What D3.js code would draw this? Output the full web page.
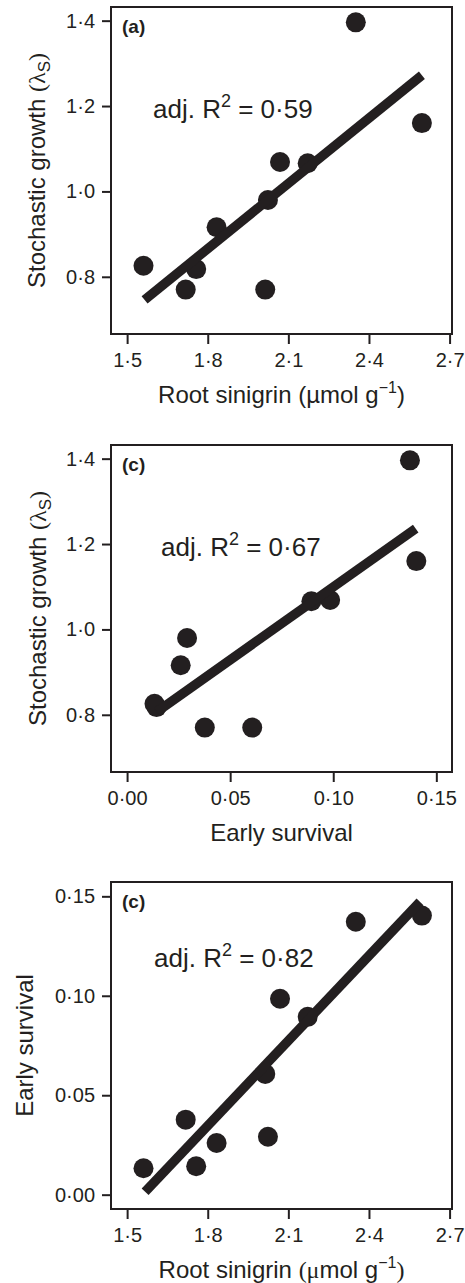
<!DOCTYPE html>
<html>
<head>
<meta charset="utf-8">
<script src="https://cdn.jsdelivr.net/npm/d3@7"></script>
<style>
  html, body { margin: 0; padding: 0; background: #fff; }
  svg { display: block; }
  text { font-family: "Liberation Sans", Arial, sans-serif; fill: #231f20; }
</style>
</head>
<body>
<svg id="chart" width="465" height="1283"></svg>
<script>
// ---- data ----
const sinigrin = [1.561, 1.718, 1.757, 1.833, 2.014, 2.024, 2.069, 2.172, 2.351, 2.597];
const lambdaS  = [0.826, 0.770, 0.818, 0.916, 0.770, 0.980, 1.069, 1.066, 1.396, 1.160];
const survival = [0.0133, 0.0377, 0.0143, 0.0260, 0.0607, 0.0291, 0.0985, 0.0894, 0.1372, 0.1403];

const sinigrinTicks = [1.5, 1.8, 2.1, 2.4, 2.7];
const lambdaTicks   = [0.8, 1.0, 1.2, 1.4];
const survivalTicks = [0.00, 0.05, 0.10, 0.15];

// fitted regression lines (endpoints)
const fitA_x = [1.565, 2.597],  fitA_y = [0.746, 1.272];
const fitB_x = [0.0144, 0.1400], fitB_y = [0.807, 1.236];
const fitC_x = [1.567, 2.590],  fitC_y = [0.0015, 0.1472];

const panelLetters = ["(a)", "(c)", "(c)"];
const r2Values = ["0·59", "0·67", "0·82"];

// ---- layout ----
const ink = "#231f20";
const boxLeft = 111, boxW = 341, boxH = 327;
const svg = d3.select("#chart");

const dot = s => s.replace(".", "·");

const panels = [
  { top: 7, xs: sinigrin, ys: lambdaS, xDom: [1.44, 2.709], yDom: [0.666, 1.432],
    xTicks: sinigrinTicks, yTicks: lambdaTicks, xFmt: d3.format(".1f"), yFmt: d3.format(".1f"),
    fx: fitA_x, fy: fitA_y, r2x: 42, r2y: 111, yTitleX: 45, xTitle: "sin", yTitle: "lambda" },
  { top: 445, xs: survival, ys: lambdaS, xDom: [-0.0078, 0.1576], yDom: [0.666, 1.432],
    xTicks: survivalTicks, yTicks: lambdaTicks, xFmt: d3.format(".2f"), yFmt: d3.format(".1f"),
    fx: fitB_x, fy: fitB_y, r2x: 50, r2y: 111, yTitleX: 46, xTitle: "surv", yTitle: "lambda" },
  { top: 882, xs: sinigrin, ys: survival, xDom: [1.44, 2.709], yDom: [-0.0072, 0.1572],
    xTicks: sinigrinTicks, yTicks: survivalTicks, xFmt: d3.format(".1f"), yFmt: d3.format(".2f"),
    fx: fitC_x, fy: fitC_y, r2x: 43, r2y: 85, yTitleX: 33, xTitle: "sinSerif", yTitle: "surv" }
];

panels.forEach((p, i) => {
  const g = svg.append("g").attr("transform", `translate(${boxLeft},${p.top})`);
  const x = d3.scaleLinear().domain(p.xDom).range([0, boxW]);
  const y = d3.scaleLinear().domain(p.yDom).range([boxH, 0]);

  // axes
  const ya = g.append("g")
    .call(d3.axisLeft(y).tickValues(p.yTicks).tickSize(9).tickPadding(7)
      .tickFormat(d => dot(p.yFmt(d))));
  const xa = g.append("g").attr("transform", `translate(0,${boxH})`)
    .call(d3.axisBottom(x).tickValues(p.xTicks).tickSize(10).tickPadding(9)
      .tickFormat(d => dot(p.xFmt(d))));
  [ya, xa].forEach(a => {
    a.select(".domain").remove();
    a.selectAll(".tick line").attr("stroke", ink).attr("stroke-width", 2);
    a.selectAll(".tick text").attr("fill", ink).style("font-size", "20px")
      .style("font-family", '"Liberation Sans", Arial, sans-serif');
  });

  // box
  g.append("rect").attr("x", 0).attr("y", 0).attr("width", boxW).attr("height", boxH)
    .attr("fill", "none").attr("stroke", ink).attr("stroke-width", 2);

  // points
  g.selectAll("circle.pt").data(p.xs.map((v, k) => [v, p.ys[k]])).enter()
    .append("circle").attr("class", "pt")
    .attr("cx", d => x(d[0])).attr("cy", d => y(d[1])).attr("r", 10)
    .attr("fill", ink);

  // regression line
  const line = d3.line().x(d => x(d[0])).y(d => y(d[1]));
  g.append("path").datum(p.fx.map((v, k) => [v, p.fy[k]]))
    .attr("d", line).attr("fill", "none").attr("stroke", ink)
    .attr("stroke-width", 9.5).attr("stroke-linecap", "butt");

  // panel letter
  g.append("text").attr("x", 11).attr("y", 26).style("font-size", "19px")
    .style("font-weight", "bold").text(panelLetters[i]);

  // R2 annotation
  const t = g.append("text").attr("x", p.r2x).attr("y", p.r2y).style("font-size", "26px");
  t.append("tspan").text("adj. R");
  t.append("tspan").attr("dy", -11).style("font-size", "18px").text("2");
  t.append("tspan").attr("dy", 11).text(" = " + r2Values[i]);

  // x title
  const xt = g.append("text").attr("x", boxW / 2).attr("y", boxH + 69)
    .attr("text-anchor", "middle").style("font-size", "24px");
  if (p.xTitle === "surv") {
    xt.text("Early survival");
  } else {
    const serif = p.xTitle === "sinSerif";
    const sf = '"Liberation Serif", "Times New Roman", serif';
    xt.append("tspan").text("Root sinigrin ");
    const a = xt.append("tspan").text(serif ? "(\u03bc" : "(\u00b5");
    if (serif) a.style("font-family", sf);
    xt.append("tspan").text("mol g");
    xt.append("tspan").attr("dy", -10).style("font-size", "16px").text("\u22121");
    const c = xt.append("tspan").attr("dy", 10).text(")");
    if (serif) c.style("font-family", sf);
  }

  // y title
  const yt = g.append("text")
    .attr("transform", `translate(${p.yTitleX - boxLeft},${boxH / 2}) rotate(-90)`)
    .attr("text-anchor", "middle").style("font-size", "24px");
  if (p.yTitle === "surv") {
    yt.text("Early survival");
  } else {
    const sf = '"Liberation Serif", "Times New Roman", serif';
    yt.append("tspan").text("Stochastic growth ");
    yt.append("tspan").style("font-family", sf).text("(\u03bb");
    yt.append("tspan").attr("dy", 5).style("font-size", "17px").text("S");
    yt.append("tspan").attr("dy", -5).style("font-family", sf).text(")");
  }
});
</script>
</body>
</html>
